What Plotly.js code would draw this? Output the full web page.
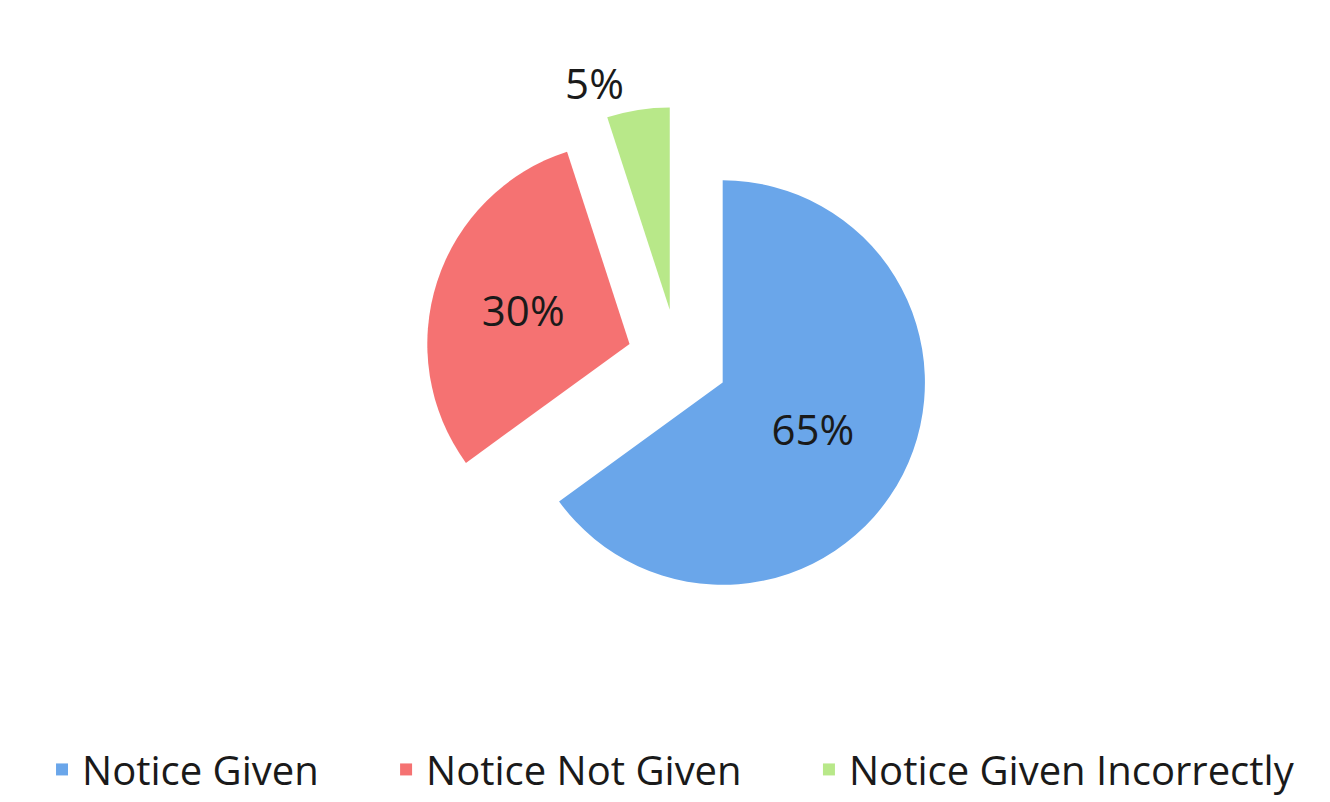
<!DOCTYPE html>
<html>
<head>
<meta charset="utf-8">
<script src="https://cdn.plot.ly/plotly-3.0.1.min.js"></script>
<style>html,body{margin:0;padding:0;background:#fff;}#chart{width:1330px;height:802px;}</style>
</head>
<body>
<div id="chart"></div>
<script>
const labels = ["Notice Given", "Notice Not Given", "Notice Given Incorrectly"];
const values = [65, 30, 5];
const sliceColors = ["#6aa6ea", "#f57272", "#b8e889"];
const textPositions = ["inside", "inside", "outside"];
const pulls = [0.25, 0.25, 0.25];

// legend spacing: pad entries (except the last) with non-breaking spaces
const legendPad = "\u00a0".repeat(6);
const legendLabels = labels.map((l, i) => i < labels.length - 1 ? l + legendPad : l);

const trace = {
  type: "pie",
  labels: legendLabels,
  values: values,
  sort: false,
  direction: "clockwise",
  rotation: 0,
  pull: pulls,
  textinfo: "percent",
  texttemplate: "%{percent:.0%}",
  textposition: textPositions,
  insidetextorientation: "horizontal",
  textfont: {family: "Open Sans, sans-serif", size: 42, color: "#1a1a1a"},
  marker: {colors: sliceColors, line: {width: 0}},
  domain: {x: [0.319, 0.7], y: [0.2335, 0.8663]},
  hoverinfo: "label+percent"
};

const layout = {
  width: 1330,
  height: 802,
  margin: {l: 0, r: 0, t: 0, b: 0},
  paper_bgcolor: "#ffffff",
  showlegend: true,
  legend: {
    orientation: "h",
    x: 0.0316, xanchor: "left",
    y: 0.037, yanchor: "middle",
    font: {family: "Open Sans, sans-serif", size: 40, color: "#1a1a1a"},
    itemwidth: 30
  }
};

Plotly.newPlot("chart", [trace], layout, {displayModeBar: false});
</script>
</body>
</html>
